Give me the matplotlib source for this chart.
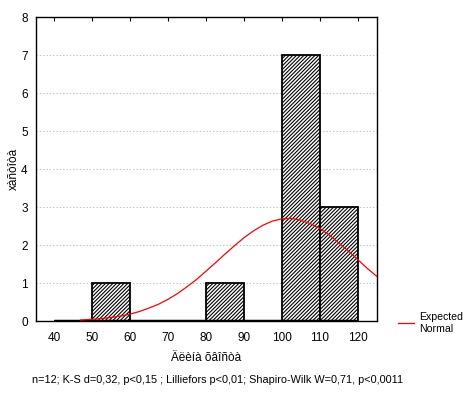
import numpy as np
import matplotlib
matplotlib.use("Agg")
import matplotlib.pyplot as plt

plt.rcParams["font.family"] = ["Liberation Sans", "DejaVu Sans"]
plt.rcParams["hatch.linewidth"] = 0.8

# histogram bins (left edges) and counts
bin_left = [40, 50, 60, 70, 80, 90, 100, 110]
counts = [0, 1, 0, 0, 1, 0, 7, 3]
bin_width = 10

# expected normal curve
curve_x = [47, 47.5, 50, 52.5, 55, 57.5, 60, 62.5, 65, 67.5, 70, 72.5, 75, 77.5,
           80, 82.5, 85, 87.5, 90, 92.5, 95, 97.5, 100, 102.5, 105, 107.5, 110,
           112.5, 115, 117.5, 120, 122.5, 125]
curve_y = [0.027, 0.029, 0.044, 0.064, 0.093, 0.13, 0.18, 0.25, 0.34, 0.44, 0.57,
           0.72, 0.90, 1.09, 1.31, 1.53, 1.76, 1.98, 2.19, 2.37, 2.52, 2.63, 2.69,
           2.70, 2.65, 2.56, 2.43, 2.26, 2.05, 1.84, 1.61, 1.38, 1.17]

xticks = [40, 50, 60, 70, 80, 90, 100, 110, 120]
yticks = [0, 1, 2, 3, 4, 5, 6, 7, 8]

fig = plt.figure(figsize=(4.64, 3.94), dpi=100)
ax = fig.add_axes([36 / 464, 1 - 321 / 394, (377 - 36) / 464, (321 - 17) / 394])

for y in yticks[1:-1]:
    ax.axhline(y, color="#c0c0c0", lw=0.8, ls=(0, (1.2, 1.8)), zorder=0)

ax.bar(bin_left, counts, width=bin_width, align="edge", facecolor="white",
       edgecolor="black", linewidth=1.3, hatch="/////////", zorder=2)
ax.plot([bin_left[0], bin_left[-1] + bin_width], [0, 0], color="black", lw=2.5,
        zorder=3, solid_capstyle="butt")
line, = ax.plot(curve_x, curve_y, color="red", lw=0.9, zorder=4)

ax.set_xlim(35.3, 125)
ax.set_ylim(0, 8)
ax.set_xticks(xticks)
ax.set_yticks(yticks)
ax.tick_params(axis="x", which="both", top=True, bottom=False, direction="in",
               length=3, labelsize=8.5, pad=8)
ax.tick_params(axis="y", length=0, labelsize=8.5, pad=6)
for s in ax.spines.values():
    s.set_linewidth(1.0)

ax.set_xlabel("Äëèíà õâîñòà", fontsize=8.5, labelpad=6)
fig.text(14 / 464, 1 - 169 / 394, "xàñòîòà", rotation=90, ha="center",
         va="center", fontsize=8.5)

fig.text(218 / 464, 1 - 380 / 394,
         "n=12; K-S d=0,32, p<0,15 ; Lilliefors p<0,01; Shapiro-Wilk W=0,71, p<0,0011",
         ha="center", va="center", fontsize=7.8)

fig.legend([line], ["Expected\nNormal"], loc="center left",
           bbox_to_anchor=(393 / 464, 1 - 323 / 394), frameon=False, fontsize=7.6,
           handlelength=1.5, handletextpad=0.5, borderpad=0, labelspacing=0.2)

fig.savefig("out.png", dpi=100)
